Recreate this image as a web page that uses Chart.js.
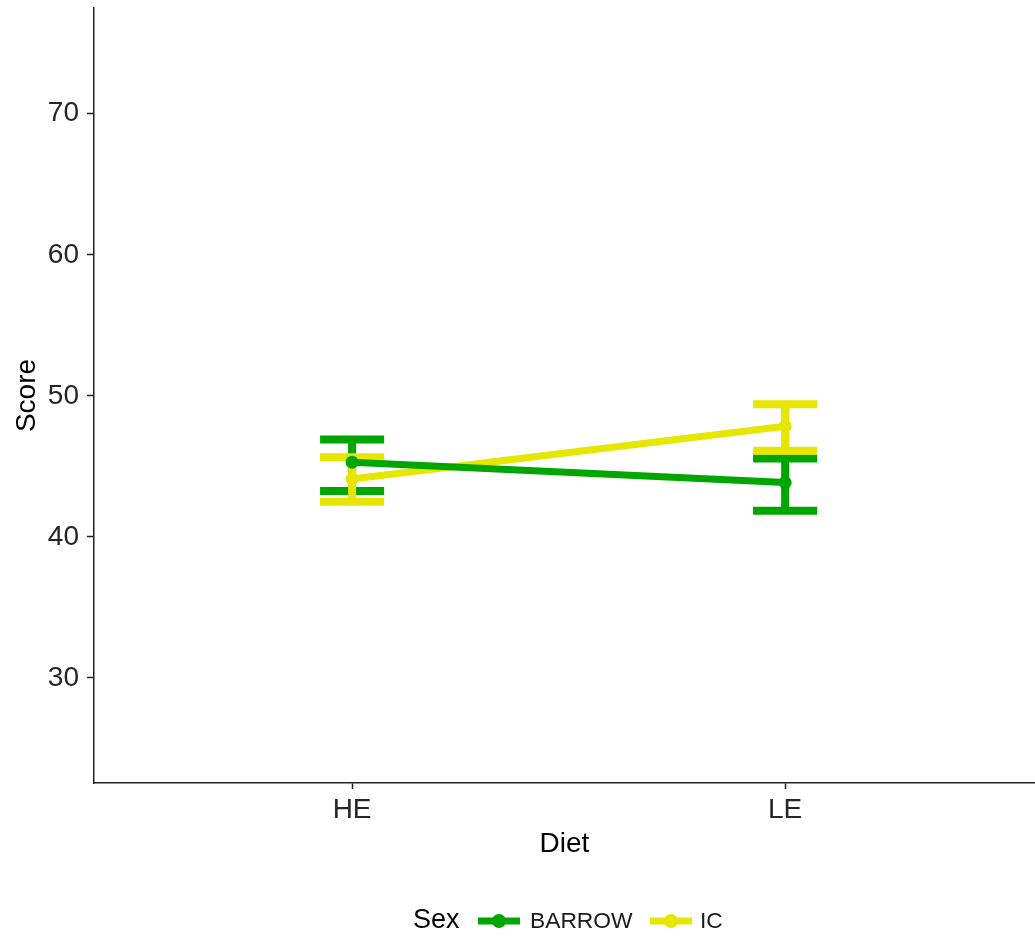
<!DOCTYPE html>
<html>
<head>
<meta charset="utf-8">
<script src="https://cdn.jsdelivr.net/npm/chart.js@4/dist/chart.umd.min.js"></script>
<style>
  html, body { margin: 0; padding: 0; background: #fff; }
  #wrap { width: 1035px; height: 937px; position: relative; }
</style>
</head>
<body>
<div id="wrap"><canvas id="chart"></canvas></div>
<script>
const diets = ['HE', 'LE'];
const dietPos = [1, 2];
const sexes = ['BARROW', 'IC'];
const barrowMean = [45.3, 43.85];
const barrowLow = [43.25, 41.85];
const barrowHigh = [46.9, 45.55];
const icMean = [44.1, 47.85];
const icLow = [42.5, 46.1];
const icHigh = [45.65, 49.4];
const yTicks = [30, 40, 50, 60, 70];
const colors = ['#00A600', '#E6E600'];

const FONT = '"Liberation Sans", Arial, sans-serif';

const toPoints = (mean, low, high) =>
  mean.map((m, i) => ({ x: dietPos[i], y: m, low: low[i], high: high[i] }));

// error bars drawn under the lines, from each point's low/high
const errorBars = {
  id: 'errorBars',
  beforeDatasetsDraw(chart) {
    const { ctx, scales: { x, y } } = chart;
    ctx.save();
    ctx.lineWidth = 8;
    ctx.lineCap = 'butt';
    chart.data.datasets.forEach((ds) => {
      ctx.strokeStyle = ds.borderColor;
      ds.data.forEach((pt) => {
        const px = x.getPixelForValue(pt.x);
        const x0 = x.getPixelForValue(pt.x - 0.074);
        const x1 = x.getPixelForValue(pt.x + 0.074);
        const yl = y.getPixelForValue(pt.low);
        const yh = y.getPixelForValue(pt.high);
        ctx.beginPath();
        ctx.moveTo(px, yl); ctx.lineTo(px, yh);
        ctx.moveTo(x0, yl); ctx.lineTo(x1, yl);
        ctx.moveTo(x0, yh); ctx.lineTo(x1, yh);
        ctx.stroke();
      });
    });
    ctx.restore();
  }
};

// ggplot style legend at the bottom: title + line/point keys
const sexLegend = {
  id: 'sexLegend',
  afterDraw(chart) {
    const ctx = chart.ctx;
    const yc = 921;
    const keyX = [478, 650];
    const labelX = [530, 700];
    ctx.save();
    ctx.textBaseline = 'middle';
    ctx.fillStyle = '#000';
    ctx.font = '27px ' + FONT;
    ctx.fillText('Sex', 413, yc);
    ctx.font = '22.8px ' + FONT;
    sexes.forEach((s, i) => {
      ctx.strokeStyle = colors[i];
      ctx.fillStyle = colors[i];
      ctx.lineWidth = 7;
      ctx.beginPath();
      ctx.moveTo(keyX[i], yc); ctx.lineTo(keyX[i] + 42, yc);
      ctx.stroke();
      ctx.beginPath();
      ctx.arc(keyX[i] + 21, yc, 7, 0, Math.PI * 2);
      ctx.fill();
      ctx.fillStyle = '#1a1a1a';
      ctx.fillText(s, labelX[i], yc + 1);
    });
    ctx.restore();
  }
};

const series = [
  toPoints(barrowMean, barrowLow, barrowHigh),
  toPoints(icMean, icLow, icHigh)
];

new Chart(document.getElementById('chart'), {
  type: 'line',
  data: {
    datasets: sexes.map((s, i) => ({
      label: s,
      data: series[i],
      borderColor: colors[i],
      backgroundColor: colors[i],
      borderWidth: 7,
      pointRadius: 6.5,
      pointBorderWidth: 0,
      pointBackgroundColor: colors[i],
      tension: 0
    }))
  },
  options: {
    responsive: true,
    maintainAspectRatio: false,
    animation: false,
    layout: { autoPadding: false, padding: { top: 8, right: 0, bottom: 0, left: 0 } },
    plugins: { legend: { display: false }, tooltip: { enabled: false } },
    scales: {
      x: {
        type: 'linear',
        min: 0.404,
        max: 2.577,
        afterBuildTicks: (s) => { s.ticks = dietPos.map((v) => ({ value: v })); },
        afterFit: (s) => { s.height = 154; s.paddingLeft = 0; s.paddingRight = 0; },
        border: { color: '#222', width: 1.5 },
        grid: { drawOnChartArea: false, tickLength: 6, tickColor: '#222', tickWidth: 1.5 },
        ticks: {
          color: '#262626',
          font: { size: 28, family: FONT },
          padding: 4,
          callback: (v) => diets[dietPos.indexOf(v)] ?? ''
        },
        title: {
          display: true, text: 'Diet', color: '#000',
          font: { size: 28, family: FONT },
          padding: { top: 0, bottom: 76 }
        }
      },
      y: {
        type: 'linear',
        min: 22.55,
        max: 77.5,
        afterBuildTicks: (s) => { s.ticks = yTicks.map((v) => ({ value: v })); },
        afterFit: (s) => { s.width = 94; s.paddingTop = 0; s.paddingBottom = 0; },
        border: { color: '#222', width: 1.5 },
        grid: { drawOnChartArea: false, tickLength: 7, tickColor: '#222', tickWidth: 1.5 },
        ticks: { color: '#262626', font: { size: 28, family: FONT }, padding: 8 },
        title: {
          display: true, text: 'Score', color: '#000',
          font: { size: 28, family: FONT },
          padding: { top: 10, bottom: 0 }
        }
      }
    }
  },
  plugins: [errorBars, sexLegend]
});
</script>
</body>
</html>
